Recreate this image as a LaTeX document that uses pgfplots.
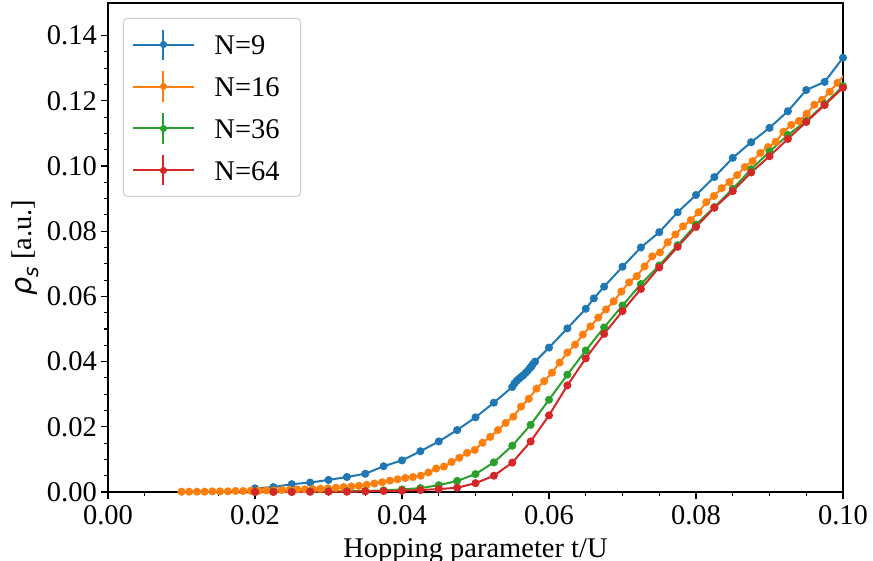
\documentclass[border=0pt]{standalone}
\usepackage{pgfplots}
\pgfplotsset{compat=1.18}
\usepackage{fontspec}
\setmainfont{Liberation Serif}
\newfontfamily\dejavu{DejaVu Sans}
\definecolor{tabblue}{HTML}{1F77B4}
\definecolor{taborange}{HTML}{FF7F0E}
\definecolor{tabgreen}{HTML}{2CA02C}
\definecolor{tabred}{HTML}{D62728}
\newcommand{\bigfont}{\fontsize{28.5}{33}\selectfont}
\begin{document}
\begin{tikzpicture}
\begin{axis}[
  name=ax,
  scale only axis,
  width=735pt, height=489pt,
  xmin=0, xmax=0.1, ymin=0, ymax=0.15,
  xtick={0,0.02,0.04,0.06,0.08,0.1},
  ytick={0,0.02,0.04,0.06,0.08,0.1,0.12,0.14},
  minor tick num=3,
  scaled ticks=false,
  /pgf/number format/assume math mode=true,
  /pgf/number format/fixed,
  /pgf/number format/fixed zerofill,
  /pgf/number format/precision=2,
  tick label style={font=\bigfont},
  xticklabel style={inner sep=0pt, yshift=-6pt},
  yticklabel style={inner sep=0pt, xshift=-4pt},
  label style={font=\bigfont},
  xlabel style={at={(axis description cs:0.5,-0.094)}, anchor=north, inner sep=0pt},
  ylabel style={at={(axis description cs:-0.113,0.5)}, anchor=center, rotate=0, inner sep=0pt},
  tick align=outside,
  xtick pos=left, ytick pos=left,
  major tick length=7pt, minor tick length=4pt,
  every tick/.style={black, line width=1.1pt},
  axis line style={line width=1.2pt},
  xlabel={Hopping parameter t/U},
  ylabel={{\dejavu\itshape ρ}\raisebox{-0.25em}{\dejavu\itshape\fontsize{20}{22}\selectfont s} [a.u.]},
  legend cell align=left,
  legend style={font=\bigfont, at={(0,1)}, anchor=north west, xshift=15pt, yshift=-15pt,
    draw=black!20, line width=1pt, rounded corners=4pt, fill=white, fill opacity=0.8, text opacity=1,
    inner xsep=9pt, inner ysep=10pt, row sep=10pt,
    nodes={text height=19pt, text depth=0pt, inner xsep=12pt, inner ysep=3pt}},
  legend image code/.code={
    \draw[line width=2pt] (0pt,0pt) -- (60pt,0pt);
    \draw[line width=2pt] (30pt,-15pt) -- (30pt,15pt);
    \fill (30pt,0pt) circle (2.5pt);
    \path (68pt,0pt);
  },
  every axis plot/.append style={line width=2pt, mark=*, mark size=3pt},
]
% N=9
\addplot[color=tabblue, mark options={fill=tabblue}] coordinates {
(0.0200,0.0011) (0.0225,0.0015) (0.0250,0.0024) (0.0275,0.0029) (0.0300,0.0037)
(0.0325,0.0046) (0.0350,0.0056) (0.0375,0.0079) (0.0400,0.0097) (0.0425,0.0125)
(0.0450,0.0155) (0.0475,0.0190) (0.0500,0.0229) (0.0525,0.0274) (0.0550,0.0322)
(0.0553,0.0333) (0.0556,0.0341) (0.0559,0.0347) (0.0562,0.0353) (0.0565,0.0358)
(0.0568,0.0365) (0.0571,0.0372) (0.0574,0.0380) (0.0576,0.0385) (0.0578,0.0392)
(0.0581,0.0400) (0.0600,0.0443) (0.0625,0.0502) (0.0650,0.0562) (0.0661,0.0594)
(0.0675,0.0630) (0.0700,0.0691) (0.0725,0.0750) (0.0750,0.0797) (0.0775,0.0858)
(0.0800,0.0911) (0.0825,0.0966) (0.0850,0.1025) (0.0875,0.1073) (0.0900,0.1117)
(0.0925,0.1168) (0.0950,0.1233) (0.0975,0.1258) (0.1000,0.1332)
};
\addlegendentry{N=9}
% N=16
\addplot[color=taborange, mark options={fill=taborange}] coordinates {
(0.01000,0.0001) (0.01105,0.0001) (0.01210,0.0001) (0.01315,0.0001) (0.01420,0.0002)
(0.01525,0.0002) (0.01630,0.0002) (0.01735,0.0003) (0.01840,0.0003) (0.01945,0.0004)
(0.02050,0.0004) (0.02155,0.0005) (0.02260,0.0005) (0.02365,0.0006) (0.02470,0.0007)
(0.02575,0.0008) (0.02680,0.0008) (0.02785,0.0009) (0.02890,0.0010) (0.02995,0.0011)
(0.03100,0.0013) (0.03205,0.0015) (0.03310,0.0017) (0.03415,0.0019) (0.03520,0.0022)
(0.03625,0.0026) (0.03730,0.0030) (0.03835,0.0035) (0.03940,0.0039) (0.04045,0.0043)
(0.04150,0.0046) (0.04255,0.0050) (0.04360,0.0060) (0.04465,0.0072) (0.04570,0.0078)
(0.04675,0.0092) (0.04780,0.0105) (0.04885,0.0120) (0.04990,0.0129) (0.05095,0.0151)
(0.05200,0.0169) (0.05305,0.0190) (0.05410,0.0212) (0.05515,0.0231) (0.05620,0.0262)
(0.05725,0.0286) (0.05830,0.0317) (0.05935,0.0340) (0.06040,0.0366) (0.06145,0.0397)
(0.06250,0.0428) (0.06355,0.0452) (0.06460,0.0483) (0.06565,0.0508) (0.06670,0.0535)
(0.06775,0.0560) (0.06880,0.0585) (0.06985,0.0615) (0.07090,0.0643) (0.07195,0.0662)
(0.07300,0.0692) (0.07405,0.0723) (0.07510,0.0735) (0.07615,0.0766) (0.07720,0.0790)
(0.07825,0.0815) (0.07930,0.0834) (0.08035,0.0858) (0.08140,0.0889) (0.08245,0.0908)
(0.08350,0.0932) (0.08455,0.0951) (0.08560,0.0972) (0.08665,0.0997) (0.08770,0.1015)
(0.08875,0.1040) (0.08980,0.1058) (0.09085,0.1074) (0.09190,0.1105) (0.09295,0.1126)
(0.09400,0.1138) (0.09505,0.1160) (0.09610,0.1188) (0.09715,0.1203) (0.09820,0.1228)
(0.09925,0.1255) (0.10030,0.1283)
};
\addlegendentry{N=16}
% N=36
\addplot[color=tabgreen, mark options={fill=tabgreen}] coordinates {
(0.0200,0.0000) (0.0225,0.0001) (0.0250,0.0001) (0.0275,0.0001) (0.0300,0.0002)
(0.0325,0.0002) (0.0350,0.0003) (0.0375,0.0005) (0.0400,0.0008) (0.0425,0.0012)
(0.0450,0.0021) (0.0475,0.0034) (0.0500,0.0055) (0.0525,0.0091) (0.0550,0.0142)
(0.0575,0.0206) (0.0600,0.0283) (0.0625,0.0360) (0.0650,0.0434) (0.0675,0.0505)
(0.0700,0.0572) (0.0725,0.0638) (0.0750,0.0695) (0.0775,0.0757) (0.0800,0.0820)
(0.0825,0.0874) (0.0850,0.0930) (0.0875,0.0990) (0.0900,0.1044) (0.0925,0.1095)
(0.0950,0.1138) (0.0975,0.1190) (0.1000,0.1245)
};
\addlegendentry{N=36}
% N=64
\addplot[color=tabred, mark options={fill=tabred}] coordinates {
(0.0200,0.0000) (0.0225,0.0000) (0.0250,0.0000) (0.0275,0.0001) (0.0300,0.0001)
(0.0325,0.0001) (0.0350,0.0002) (0.0375,0.0003) (0.0400,0.0004) (0.0425,0.0006)
(0.0450,0.0009) (0.0475,0.0013) (0.0500,0.0027) (0.0525,0.0050) (0.0550,0.0090)
(0.0575,0.0155) (0.0600,0.0235) (0.0625,0.0327) (0.0650,0.0410) (0.0675,0.0485)
(0.0700,0.0555) (0.0725,0.0623) (0.0750,0.0689) (0.0775,0.0752) (0.0800,0.0813)
(0.0825,0.0872) (0.0850,0.0923) (0.0875,0.0980) (0.0900,0.1030) (0.0925,0.1083)
(0.0950,0.1135) (0.0975,0.1187) (0.1000,0.1240)
};
\addlegendentry{N=64}
\end{axis}
\pgfresetboundingbox
\path[use as bounding box] ([shift={(-108pt,-68pt)}]ax.south west) rectangle ([shift={(30pt,3pt)}]ax.north east);
\end{tikzpicture}
\end{document}
